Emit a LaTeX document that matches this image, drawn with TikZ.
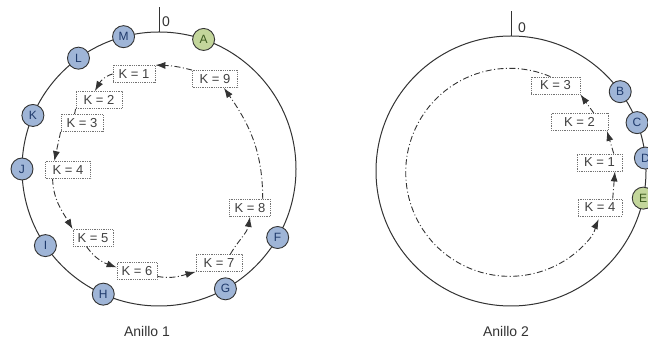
\documentclass[tikz,border=0pt]{standalone}
\usepackage{fontspec}
\setmainfont{Liberation Sans}
\usetikzlibrary{arrows.meta,calc}
\definecolor{peerblue}{HTML}{9FB5D7}
\definecolor{peergreen}{HTML}{C3D69B}
\definecolor{bluetext}{HTML}{1F3A6B}
\definecolor{greentext}{HTML}{3B5A1E}
\definecolor{linegray}{HTML}{333333}
\begin{document}
\begin{tikzpicture}[x=1pt,y=1pt,
  ring/.style={draw=linegray, line width=1pt},
  peer/.style={circle, draw=linegray, line width=0.9pt, fill=peerblue, minimum size=22pt, inner sep=0pt, text=bluetext, font=\fontsize{12}{12}\selectfont},
  peerA/.style={peer, fill=peergreen, text=greentext},
  kbox/.style={rectangle, draw=black!55, densely dotted, line width=0.8pt, fill=white, minimum height=17pt, inner sep=0pt, text=black!75, font=\fontsize{13}{13}\selectfont},
  flow/.style={draw=linegray, line width=0.9pt, dash pattern=on 6pt off 2.5pt on 1pt off 2.5pt, -{Latex[length=10pt,width=7pt]}},
  flowline/.style={flow, -},
  zero/.style={font=\fontsize{14}{14}\selectfont, text=black!80},
  ringcaption/.style={font=\fontsize{14}{14}\selectfont, text=black!80}]
\useasboundingbox (0,0) rectangle (648,342);
% ---------- Ring 1 ----------
\coordinate (c1) at (159,173);
\draw[ring] (c1) circle[radius=137];
\coordinate (t1a) at (159,310);
\coordinate (t1b) at (159,335);
\draw[ring] (t1a) -- (t1b);
\node[zero] (z1) at (166,320) {0};
\node[peer]  (M) at ($(c1)+(105:137)$) {M};
\node[peerA] (A) at ($(c1)+(71:137)$) {A};
\node[peer]  (L) at ($(c1)+(126:137)$) {L};
\node[peer]  (K) at ($(c1)+(157:137)$) {K};
\node[peer]  (J) at ($(c1)+(180:137)$) {J};
\node[peer]  (I) at ($(c1)+(214:137)$) {I};
\node[peer]  (H) at ($(c1)+(246:137)$) {H};
\node[peer]  (G) at ($(c1)+(299:137)$) {G};
\node[peer]  (F) at ($(c1)+(330:137)$) {F};
\node[kbox, minimum width=45pt] (k9) at (215,263) {K = 9};
\node[kbox, minimum width=42pt] (k1) at (134,268) {K = 1};
\node[kbox, minimum width=46pt] (k2) at (99,242) {K = 2};
\node[kbox, minimum width=42pt] (k3) at (82,219) {K = 3};
\node[kbox, minimum width=45pt] (k4) at (68,172) {K = 4};
\node[kbox, minimum width=40pt] (k5) at (93,104) {K = 5};
\node[kbox, minimum width=40pt] (k6) at (137,71) {K = 6};
\node[kbox, minimum width=46pt] (k7) at (219,79) {K = 7};
\node[kbox, minimum width=41pt] (k8) at (250,134) {K = 8};
\draw[flow] (k9.north west) to[out=165,in=-2] (k1.north east);
\draw[flow] (k1.west) to[out=195,in=60] (k2.115);
\draw[flowline] (k2.south west) -- (k3.130);
\draw[flow] (k3.south west) -- (k4.147);
\draw[flow] (k4.-150) to[out=-88,in=120] (k5.north west);
\draw[flow] (k5.-125) to[out=-55,in=160] (k6.170);
\draw[flow] (k6.-15) to[out=-10,in=195] (k7.south west);
\draw[flow] (k7.38) to[out=60,in=-100] (k8.south);
\draw[flow] (k8.35) to[out=90,in=-55] (k9.-45);
\node[ringcaption] (a1) at (147,11) {Anillo 1};
% ---------- Ring 2 ----------
\coordinate (c2) at (511,171);
\draw[ring] (c2) circle[radius=135];
\coordinate (t2a) at (511,306);
\coordinate (t2b) at (511,331);
\draw[ring] (t2a) -- (t2b);
\node[zero] (z2) at (522,314) {0};
\node[peer]  (B) at ($(c2)+(36:135)$) {B};
\node[peer]  (C) at ($(c2)+(21:135)$) {C};
\node[peer]  (D) at ($(c2)+(5.5:135)$) {D};
\node[peerA] (E) at ($(c2)+(-11.6:135)$) {E};
\node[kbox, minimum width=49pt] (q3) at (555.5,256.5) {K = 3};
\node[kbox, minimum width=57pt] (q2) at (579.5,220) {K = 2};
\node[kbox, minimum width=45pt] (q1) at (599.5,179.5) {K = 1};
\node[kbox, minimum width=44pt] (q4) at (600,134.5) {K = 4};
\draw[flow, shorten >=3pt] (q3.120) arc[start angle=67,end angle=320,radius=104] to[out=50,in=-115] (q4.south);
\draw[flow] (q4.35) -- (q1.-30);
\draw[flow] (q1.32) -- (q2.-18);
\draw[flow] (q2.32) -- (q3.south east);
\node[ringcaption] (a2) at (506,11) {Anillo 2};
\end{tikzpicture}
\end{document}
